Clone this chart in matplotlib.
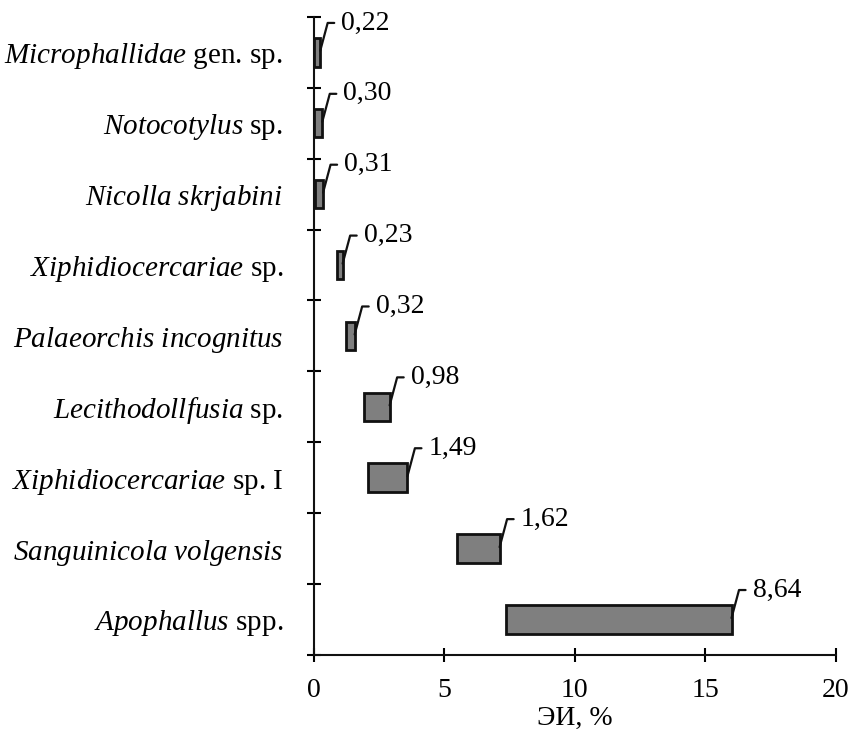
import numpy as np
import matplotlib
matplotlib.use('Agg')
import matplotlib.pyplot as plt

plt.rcParams['font.family'] = 'Liberation Serif'
plt.rcParams['mathtext.fontset'] = 'custom'
plt.rcParams['mathtext.rm'] = 'Liberation Serif'
plt.rcParams['mathtext.it'] = 'Liberation Serif:italic'

# bottom to top
names = [r'$\it{Apophallus}$ spp.',
         r'$\it{Sanguinicola\ volgensis}$',
         r'$\it{Xiphidiocercariae}$ sp. I',
         r'$\it{Lecithodollfusia}$ sp.',
         r'$\it{Palaeorchis\ incognitus}$',
         r'$\it{Xiphidiocercariae}$ sp.',
         r'$\it{Nicolla\ skrjabini}$',
         r'$\it{Notocotylus}$ sp.',
         r'$\it{Microphallidae}$ gen. sp.']
starts = [7.36, 5.5, 2.1, 1.93, 1.25, 0.88, 0.05, 0.03, 0.03]
widths = [8.64, 1.62, 1.49, 0.98, 0.32, 0.23, 0.31, 0.30, 0.22]
value_labels = ['8,64', '1,62', '1,49', '0,98', '0,32', '0,23', '0,31', '0,30', '0,22']

fig = plt.figure(figsize=(8.5, 7.35), dpi=100)
ax = fig.add_axes([0.369, 0.109, 0.6145, 0.868])

y = np.arange(len(names))
ax.barh(y, widths, left=starts, height=0.4, color='#7f7f7f',
        edgecolor='#111111', linewidth=2.0, zorder=3)

for yi, s, w, lab in zip(y, starts, widths, value_labels):
    ax.annotate(lab, xy=(s + w, yi + 0.02), xytext=(21, 28),
                textcoords='offset pixels', fontsize=20, va='center', ha='left',
                arrowprops=dict(arrowstyle='-', color='#111111', lw=1.6,
                                connectionstyle='angle,angleA=0,angleB=75,rad=0',
                                shrinkA=3, shrinkB=0, relpos=(0, 0.5)),
                annotation_clip=False)

ax.set_xlim(0, 20)
ax.set_ylim(-0.5, len(names) - 0.5)
ax.set_xticks([0, 5, 10, 15, 20])
ax.set_yticks(np.arange(len(names) + 1) - 0.5)
ax.set_yticklabels([])
ax.set_yticks(y, minor=True)
ax.set_yticklabels(names, minor=True, fontsize=21)
ax.tick_params(axis='y', which='minor', length=0, pad=22)
ax.tick_params(axis='y', which='major', direction='inout', length=10, width=1.5)
ax.tick_params(axis='x', direction='inout', length=10, width=1.5, labelsize=20, pad=12)

for side in ['top', 'right']:
    ax.spines[side].set_visible(False)
for side in ['left', 'bottom']:
    ax.spines[side].set_linewidth(1.5)
    ax.spines[side].set_color('#111111')

ax.set_xlabel('ЭИ, %', fontsize=20, labelpad=2)

fig.savefig('out.png', dpi=100)
